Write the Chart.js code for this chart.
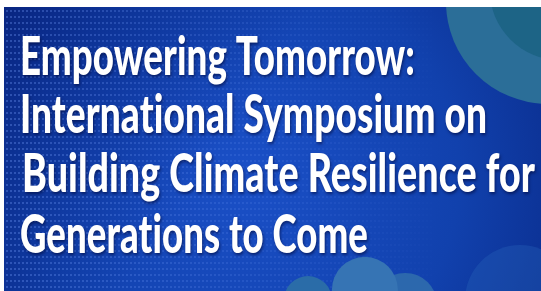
<!DOCTYPE html>
<html>
<head>
<meta charset="utf-8">
<script src="https://cdn.jsdelivr.net/npm/chart.js@4.4.1/dist/chart.umd.min.js"></script>
<style>
  html, body { margin: 0; padding: 0; background: #fff; }
  #wrap { position: absolute; left: 4px; top: 7px; width: 537px; height: 284px; }
</style>
</head>
<body>
<div id="wrap"><canvas id="banner" width="537" height="284"></canvas></div>
<script>
    // Текст банера
    const titleLines = [
        'Empowering Tomorrow:',
        'International Symposium on',
        'Building Climate Resilience for',
        'Generations to Come'
    ];

    // Кола на фоні (x, y у відсотках, r у пікселях)
    const tealX = [101.3, 103.5];
    const tealY = [-1.8, -6];
    const tealR = [102, 70];
    const tealColors = ['#2b6e98', '#1d6486'];

    const lowX = [96.1, 74.7, 67.2, 56.6];
    const lowY = [103.2, 104.9, 99.6, 103.2];
    const lowR = [55, 32, 33, 24];
    const lowColors = ['rgba(40,100,185,0.35)', '#2c68ad', '#3674b4', '#2a6ca8'];

    function toPoints(xs, ys, rs) {
        return xs.map((x, i) => ({ x: x, y: ys[i], r: rs[i] }));
    }

    // Фон: градієнт і сітка крапок
    const backdrop = {
        id: 'backdrop',
        beforeDraw(chart) {
            const c = chart.ctx, w = chart.width, h = chart.height;
            c.save();
            const g = c.createRadialGradient(w * 0.45, h * 0.6, 10, w * 0.45, h * 0.6, w * 0.65);
            g.addColorStop(0, '#1a4fc6');
            g.addColorStop(0.6, '#1141ad');
            g.addColorStop(1, '#0a2c8c');
            c.fillStyle = g;
            c.fillRect(0, 0, w, h);
            const g2 = c.createLinearGradient(0, 0, w * 0.4, h * 0.5);
            g2.addColorStop(0, 'rgba(5,25,110,0.55)');
            g2.addColorStop(1, 'rgba(5,25,110,0)');
            c.fillStyle = g2;
            c.fillRect(0, 0, w, h);
            // крапки
            for (let y = 3; y < h; y += 6) {
                for (let x = 2; x < w; x += 4) {
                    let a = 0.32 * (1 - x / (w * 0.85));
                    if (a <= 0.02) continue;
                    c.fillStyle = 'rgba(120,160,255,' + a.toFixed(3) + ')';
                    c.fillRect(x, y, 2, 2);
                }
            }
            c.restore();
        }
    };

    // Заголовок
    const headline = {
        id: 'headline',
        afterDatasetsDraw(chart, args, opts) {
            const c = chart.ctx;
            c.save();
            c.font = '900 54px Lato, "DejaVu Sans Condensed", sans-serif';
            c.letterSpacing = '0.1px';
            c.fillStyle = '#ffffff';
            c.textBaseline = 'alphabetic';
            c.shadowColor = 'rgba(0,10,60,0.6)';
            c.shadowOffsetX = 1;
            c.shadowOffsetY = 2;
            c.shadowBlur = 3;
            titleLines.forEach((line, i) => {
                c.fillText(line, opts.x[i], opts.y[i], opts.widths[i]);
            });
            c.restore();
        }
    };

    const config = {
        type: 'bubble',
        data: {
            datasets: [
                {
                    data: toPoints(tealX, tealY, tealR),
                    backgroundColor: tealColors,
                    borderWidth: 0,
                    clip: false
                },
                {
                    data: toPoints(lowX, lowY, lowR),
                    backgroundColor: lowColors,
                    borderWidth: 0,
                    clip: false
                }
            ]
        },
        options: {
            responsive: false,
            animation: false,
            devicePixelRatio: 1,
            layout: { padding: 0, autoPadding: false },
            events: [],
            scales: {
                x: { display: false, min: 0, max: 100 },
                y: { display: false, min: 0, max: 100, reverse: true }
            },
            plugins: {
                legend: { display: false },
                tooltip: { enabled: false },
                headline: {
                    x: [16, 16, 18, 16],
                    y: [68, 126, 185, 246],
                    widths: [395, 467, 513, 348]
                }
            }
        },
        plugins: [backdrop, headline]
    };

    const ctx = document.getElementById('banner').getContext('2d');
    new Chart(ctx, config);
</script>
</body>
</html>
